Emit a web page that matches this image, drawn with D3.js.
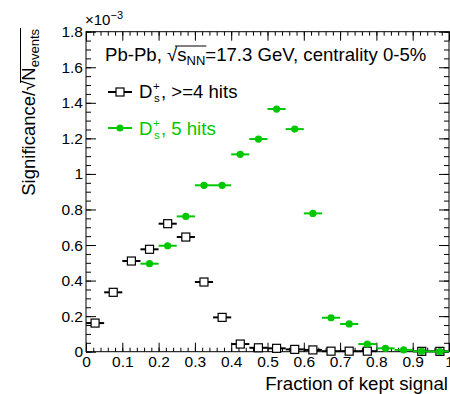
<!DOCTYPE html>
<html>
<head>
<meta charset="utf-8">
<script src="https://cdn.jsdelivr.net/npm/d3@7"></script>
<style>
  body { margin: 0; background: #fff; }
  text { font-family: "Liberation Sans", Arial, sans-serif; }
</style>
</head>
<body>
<svg id="chart" width="450" height="394"></svg>
<script>
// bin centres of the fraction of kept signal
const binCenters = [0.025, 0.075, 0.125, 0.175, 0.225, 0.275, 0.325, 0.375, 0.425, 0.475,
                    0.525, 0.575, 0.625, 0.675, 0.725, 0.775, 0.825, 0.875, 0.925, 0.975];
const binHalfWidth = 0.025;
// significance / sqrt(N events), in units of 1e-3
const hits4 = [0.161, 0.334, 0.51, 0.576, 0.72, 0.645, 0.392, 0.193, 0.043, 0.022,
               0.019, 0.013, 0.01, 0.003, 0.003, 0.003, null, null, 0.002, 0.002];
const hits5 = [null, null, null, 0.495, 0.596, 0.761, 0.936, 0.936, 1.11, 1.196,
               1.365, 1.252, 0.778, 0.191, 0.156, 0.043, 0.019, 0.01, 0.002, 0.001];
const xTicks = [0, 0.1, 0.2, 0.3, 0.4, 0.5, 0.6, 0.7, 0.8, 0.9, 1];
const yTicks = [0, 0.2, 0.4, 0.6, 0.8, 1, 1.2, 1.4, 1.6, 1.8];

const green = '#00c800';
const margin = { left: 86, right: 449, top: 31.7, bottom: 351.7 };

const svg = d3.select('#chart');
const x = d3.scaleLinear().domain([0, 1]).range([margin.left, margin.right]);
const y = d3.scaleLinear().domain([0, 1.8]).range([margin.bottom, margin.top]);

const xMinor = d3.range(0, 1.0001, 0.02);
const yMinor = d3.range(0, 1.8001, 0.05);

// frame
svg.append('rect')
  .attr('x', margin.left).attr('y', margin.top)
  .attr('width', margin.right - margin.left).attr('height', margin.bottom - margin.top)
  .attr('fill', 'none').attr('stroke', '#000').attr('stroke-width', 1);

function styleAxis(g) {
  g.select('.domain').remove();
  g.selectAll('line').attr('stroke', '#000');
  g.selectAll('text').attr('font-size', 15.5).attr('fill', '#000')
    .style('font-family', '"Liberation Sans", Arial, sans-serif');
}

// bottom axis
svg.append('g').attr('transform', `translate(0,${margin.bottom})`)
  .call(d3.axisBottom(x).tickValues(xMinor).tickSize(-4).tickFormat(''))
  .call(styleAxis);
svg.append('g').attr('transform', `translate(0,${margin.bottom})`)
  .call(d3.axisBottom(x).tickValues(xTicks).tickSize(-9).tickPadding(4).tickFormat(d3.format('')))
  .call(styleAxis);
// top axis ticks
svg.append('g').attr('transform', `translate(0,${margin.top})`)
  .call(d3.axisTop(x).tickValues(xMinor).tickSize(-4).tickFormat(''))
  .call(styleAxis);
svg.append('g').attr('transform', `translate(0,${margin.top})`)
  .call(d3.axisTop(x).tickValues(xTicks).tickSize(-9).tickFormat(''))
  .call(styleAxis);

// left axis
svg.append('g').attr('transform', `translate(${margin.left},0)`)
  .call(d3.axisLeft(y).tickValues(yMinor).tickSize(-5).tickFormat(''))
  .call(styleAxis);
svg.append('g').attr('transform', `translate(${margin.left},0)`)
  .call(d3.axisLeft(y).tickValues(yTicks).tickSize(-10).tickPadding(3).tickFormat(d3.format('')))
  .call(styleAxis);
// right axis ticks
svg.append('g').attr('transform', `translate(${margin.right},0)`)
  .call(d3.axisRight(y).tickValues(yMinor).tickSize(-5).tickFormat(''))
  .call(styleAxis);
svg.append('g').attr('transform', `translate(${margin.right},0)`)
  .call(d3.axisRight(y).tickValues(yTicks).tickSize(-10).tickFormat(''))
  .call(styleAxis);

// x10^-3
const ex = svg.append('text').attr('x', margin.left - 1).attr('y', 25).attr('font-size', 15);
ex.append('tspan').text('×10');
ex.append('tspan').attr('font-size', 11).attr('dy', -6).text('−3');

// x title
svg.append('text').attr('x', 448).attr('y', 390).attr('text-anchor', 'end')
  .attr('font-size', 18.7).text('Fraction of kept signal');

// y title
const yt = svg.append('g').attr('transform', 'translate(35,29) rotate(-90)');
const ytt = yt.append('text').attr('text-anchor', 'end').attr('font-size', 18.5);
ytt.append('tspan').text('Significance/');
ytt.append('tspan').text('√');
ytt.append('tspan').text('N');
ytt.append('tspan').attr('font-size', 13).attr('dy', 4).text('events');
{
  const node = ytt.node();
  const n = node.getNumberOfChars();
  const sx = node.getStartPositionOfChar(13).x + 8;
  const exx = node.getEndPositionOfChar(n - 1).x + 1;
  yt.append('line').attr('x1', sx).attr('x2', exx).attr('y1', -14.5).attr('y2', -14.5)
    .attr('stroke', '#000').attr('stroke-width', 1);
}

// header
const hd = svg.append('text').attr('x', 105).attr('y', 61).attr('font-size', 18.6);
hd.append('tspan').text('Pb-Pb, ');
hd.append('tspan').text('√');
hd.append('tspan').text('s');
hd.append('tspan').attr('font-size', 13).attr('dy', 4).text('NN');
hd.append('tspan').attr('dy', -4).text('=17.3 GeV, centrality 0-5%');
{
  const node = hd.node();
  const sx = node.getStartPositionOfChar(7).x + 8;
  const exx = node.getEndPositionOfChar(10).x + 1;
  svg.append('line').attr('x1', sx).attr('x2', exx).attr('y1', 46).attr('y2', 46)
    .attr('stroke', '#000').attr('stroke-width', 1);
}

// series
function drawBars(vals, color, width) {
  svg.append('g').selectAll('line')
    .data(binCenters.map((c, i) => [c, vals[i]]).filter(d => d[1] !== null))
    .join('line')
    .attr('x1', d => x(d[0] - binHalfWidth)).attr('x2', d => x(d[0] + binHalfWidth))
    .attr('y1', d => y(d[1])).attr('y2', d => y(d[1]))
    .attr('stroke', color).attr('stroke-width', width);
}
const pts4 = binCenters.map((c, i) => [c, hits4[i]]).filter(d => d[1] !== null);
const pts5 = binCenters.map((c, i) => [c, hits5[i]]).filter(d => d[1] !== null);

drawBars(hits4, '#000', 2);
svg.append('g').selectAll('rect').data(pts4).join('rect')
  .attr('x', d => x(d[0]) - 4).attr('y', d => y(d[1]) - 4)
  .attr('width', 8).attr('height', 8)
  .attr('fill', '#fff').attr('stroke', '#000').attr('stroke-width', 1.2);

drawBars(hits5, green, 2);
svg.append('g').selectAll('circle').data(pts5).join('circle')
  .attr('cx', d => x(d[0])).attr('cy', d => y(d[1])).attr('r', 3.6)
  .attr('fill', green);

// legend
function legendLabel(xp, yp, color, rest) {
  const t = svg.append('text').attr('x', xp).attr('y', yp).attr('font-size', 18.6).attr('fill', color).text('D');
  const w = t.node().getComputedTextLength();
  svg.append('text').attr('x', xp + w + 0.5).attr('y', yp - 8).attr('font-size', 11.5).attr('fill', color).text('+');
  svg.append('text').attr('x', xp + w + 1.5).attr('y', yp + 3.5).attr('font-size', 11.5).attr('fill', color).text('s');
  svg.append('text').attr('x', xp + w + 8.5).attr('y', yp).attr('font-size', 18.6).attr('fill', color).text(rest);
}
svg.append('line').attr('x1', 108).attr('x2', 132).attr('y1', 92).attr('y2', 92)
  .attr('stroke', '#000').attr('stroke-width', 2);
svg.append('rect').attr('x', 116).attr('y', 88).attr('width', 8).attr('height', 8)
  .attr('fill', '#fff').attr('stroke', '#000').attr('stroke-width', 1.2);
legendLabel(139, 98, '#000', ', >=4 hits');

svg.append('line').attr('x1', 108).attr('x2', 132).attr('y1', 128).attr('y2', 128)
  .attr('stroke', green).attr('stroke-width', 2);
svg.append('circle').attr('cx', 120).attr('cy', 128).attr('r', 3.6).attr('fill', green);
legendLabel(139, 135, green, ', 5 hits');
</script>
</body>
</html>
